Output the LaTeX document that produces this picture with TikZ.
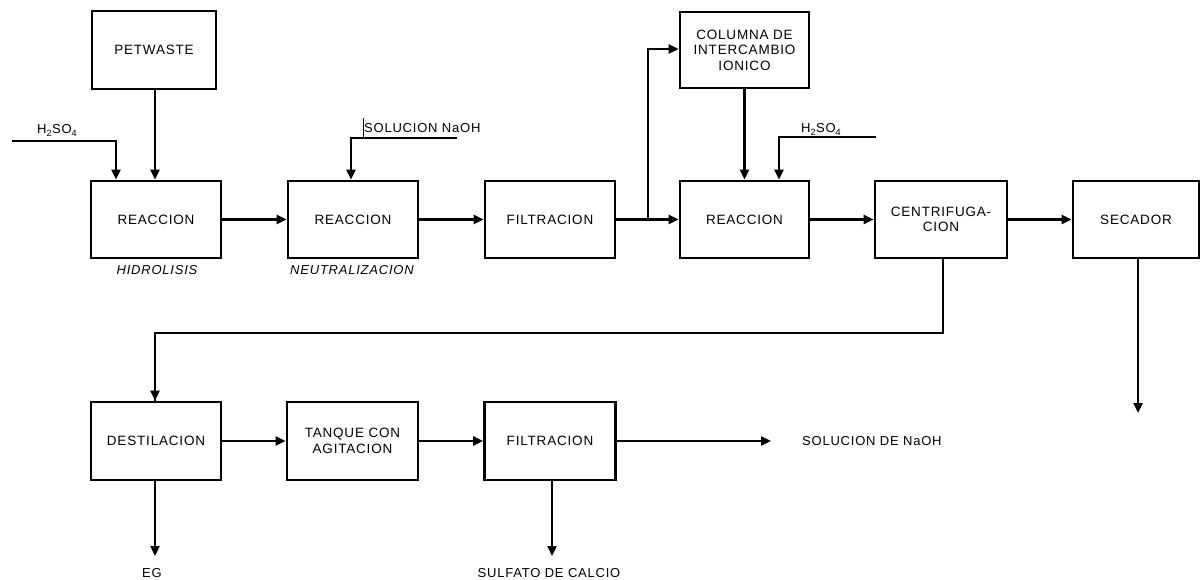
\documentclass[tikz,border=0pt]{standalone}
\usepackage{fontspec}
\setmainfont{Liberation Sans}[LetterSpace=6]
\usetikzlibrary{arrows.meta}
\begin{document}
\begin{tikzpicture}[x=1pt,y=-1pt,
  box/.style={draw, line width=2.8pt, inner sep=0pt, align=center,
    font=\fontsize{13.5}{15.5}\selectfont},
  flow/.style={line width=2.3pt, -{Triangle[length=10pt,width=9pt]}},
  lbl/.style={inner sep=0pt, font=\fontsize{13}{15}\selectfont},
  ilbl/.style={inner sep=0pt, font=\fontsize{13}{15}\selectfont\itshape}]
\useasboundingbox (0,0) rectangle (1202,580);
% top row
\node[box, minimum width=124pt, minimum height=78pt] (pet) at (154,50) {PETWASTE};
\node[box, minimum width=130pt, minimum height=77pt] (r1) at (156,219.5) {REACCION};
\node[box, minimum width=130pt, minimum height=77pt] (r2) at (353,219.5) {REACCION};
\node[box, minimum width=130pt, minimum height=77pt] (f1) at (550,219.5) {FILTRACION};
\node[box, minimum width=129pt, minimum height=77pt] (r3) at (744.5,219.5) {REACCION};
\node[box, minimum width=129pt, minimum height=76pt] (col) at (744.5,50) {COLUMNA DE\\INTERCAMBIO\\IONICO};
\node[box, minimum width=132pt, minimum height=77pt] (cen) at (941,219.5) {CENTRIFUGA-\\CION};
\node[box, minimum width=126pt, minimum height=77pt] (sec) at (1136,219.5) {SECADOR};
% bottom row
\node[box, minimum width=130pt, minimum height=78pt] (des) at (156,441) {DESTILACION};
\node[box, minimum width=131pt, minimum height=78pt] (tan) at (352.5,441) {TANQUE CON\\AGITACION};
\node[box, minimum width=131pt, minimum height=78pt] (f2) at (550,441) {FILTRACION};
% labels
\node[ilbl] (hid) at (157,270) {HIDROLISIS};
\node[ilbl] (neu) at (352,270) {NEUTRALIZACION};
\node[lbl, anchor=base west] (h1) at (37,134) {H\textsubscript{2}SO\textsubscript{4}};
\node[lbl, anchor=base west] (naoh) at (364,133) {SOLUCION NaOH};
\node[lbl, anchor=base west] (h2) at (801,133) {H\textsubscript{2}SO\textsubscript{4}};
\node[lbl, anchor=west] (sol) at (802,441) {SOLUCION DE NaOH};
\node[lbl] (eg) at (152,573) {EG};
\node[lbl] (sul) at (549,573) {SULFATO DE CALCIO};
% coordinates
\coordinate (h1s) at (12,141);
\coordinate (h1c) at (116,141);
\coordinate (ns) at (457,138);
\coordinate (nc) at (351,138);
\coordinate (tk1) at (363,118);
\coordinate (tk2) at (363,138);
\coordinate (br) at (648,219.5);
\coordinate (brt) at (648,49);
\coordinate (h2s) at (876,137);
\coordinate (h2c) at (779,137);
\coordinate (cd) at (943,333);
\coordinate (cl) at (155,333);
\coordinate (secend) at (1138,413);
\coordinate (solend) at (771,441);
\coordinate (egend) at (155,556);
\coordinate (sulend) at (552,556);
% connectors
\draw[flow] (h1s) -- (h1c) -- (h1c |- r1.north);
\draw[flow] (pet.south -| 155,0) -- (r1.north -| 155,0);
\draw[flow] (ns) -- (nc) -- (nc |- r2.north);
\draw[line width=0.8pt] (tk1) -- (tk2);
\draw[flow] (r1.east) -- (r2.west);
\draw[flow] (r2.east) -- (f1.west);
\draw[flow] (f1.east) -- (r3.west);
\draw[flow] (br) -- (brt) -- (col.west |- brt);
\draw[flow] (col.south) -- (r3.north);
\draw[flow] (h2s) -- (h2c) -- (h2c |- r3.north);
\draw[flow] (r3.east) -- (cen.west);
\draw[flow] (cen.east) -- (sec.west);
\draw[flow] (sec.south -| secend) -- (secend);
\draw[line width=2.3pt, line join=miter] (cen.south -| cd) -- (cd) -- (cl) -- (cl |- des.north);
\draw[flow] (cl) -- (cl |- des.north);
\draw[flow] (des.east) -- (tan.west);
\draw[flow] (tan.east) -- (f2.west);
\draw[flow] (f2.east) -- (solend);
\draw[flow] (des.south -| egend) -- (egend);
\draw[flow] (f2.south -| sulend) -- (sulend);
\end{tikzpicture}
\end{document}
